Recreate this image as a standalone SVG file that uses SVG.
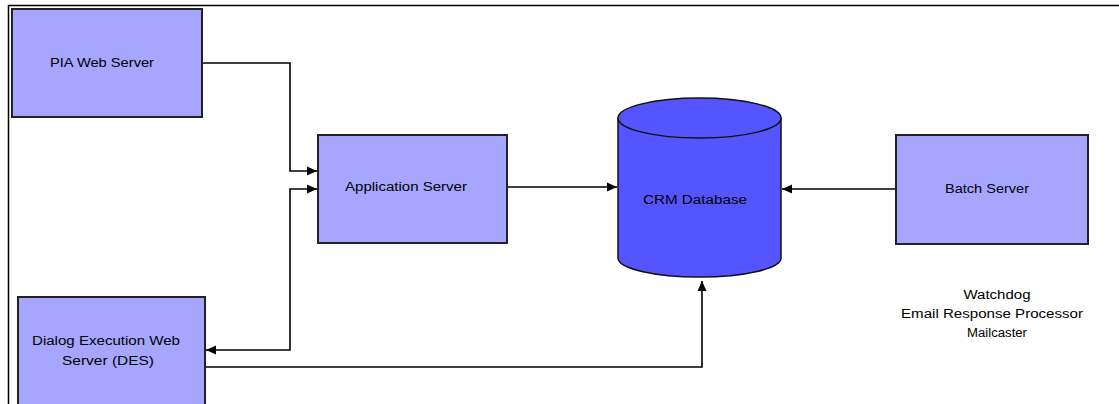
<svg xmlns="http://www.w3.org/2000/svg" width="1119" height="404" viewBox="0 0 1119 404">
<style>
.box{fill:#a6a6ff;stroke:#222;stroke-width:2}
.cyl{fill:#5555ff;stroke:#111;stroke-width:1.5}
.t{font-family:"Liberation Sans",Arial,sans-serif;font-size:12px;fill:#000;text-anchor:middle}
.c{fill:none;stroke:#000;stroke-width:1.6}
</style>
<defs>
<marker id="ah" viewBox="0 0 10 10" refX="10" refY="5" markerWidth="10" markerHeight="10" markerUnits="userSpaceOnUse" orient="auto-start-reverse">
<path d="M0,0.5 L10,5 L0,9.5 Z" fill="#000"/>
</marker>
</defs>
<rect x="0" y="0" width="1119" height="404" fill="#fff"/>
<path d="M8.5,404 V5.5 H1119" fill="none" stroke="#000" stroke-width="1.5"/>
<g id="connectors">
<path class="c" d="M202,63 H290 V171 H317" marker-end="url(#ah)"/>
<path class="c" d="M317,189 H290 V350 H206" marker-start="url(#ah)" marker-end="url(#ah)"/>
<path class="c" d="M507,187 H617" marker-end="url(#ah)"/>
<path class="c" d="M896,189 H782" marker-end="url(#ah)"/>
<path class="c" d="M205,367 H702 V281" marker-end="url(#ah)"/>
</g>
<g id="pia">
<rect class="box" x="12" y="9" width="190" height="108"/>
<text class="t" x="102" y="67" textLength="104" lengthAdjust="spacingAndGlyphs">PIA Web Server</text>
</g>
<g id="app">
<rect class="box" x="318" y="135" width="189" height="108"/>
<text class="t" x="406" y="191" textLength="122" lengthAdjust="spacingAndGlyphs">Application Server</text>
</g>
<g id="crm">
<path class="cyl" d="M618,118 V258 A81.5,19 0 0 0 781,258 V118 A81.5,20 0 0 0 618,118 Z"/>
<path class="cyl" d="M618,118 A81.5,20 0 0 0 781,118" fill="none"/>
<text class="t" x="695" y="204" textLength="104" lengthAdjust="spacingAndGlyphs">CRM Database</text>
</g>
<g id="batch">
<rect class="box" x="896" y="135" width="192" height="109"/>
<text class="t" x="987" y="193" textLength="84" lengthAdjust="spacingAndGlyphs">Batch Server</text>
</g>
<g id="des">
<rect class="box" x="18" y="297" width="187" height="120"/>
<text class="t" x="106" y="345" textLength="148" lengthAdjust="spacingAndGlyphs">Dialog Execution Web</text>
<text class="t" x="108" y="365" textLength="92" lengthAdjust="spacingAndGlyphs">Server (DES)</text>
</g>
<g id="processes">
<text class="t" x="997" y="299" textLength="67" lengthAdjust="spacingAndGlyphs">Watchdog</text>
<text class="t" x="992" y="318" textLength="182" lengthAdjust="spacingAndGlyphs">Email Response  Processor</text>
<text class="t" x="997" y="337" textLength="60" lengthAdjust="spacingAndGlyphs">Mailcaster</text>
</g>
</svg>
